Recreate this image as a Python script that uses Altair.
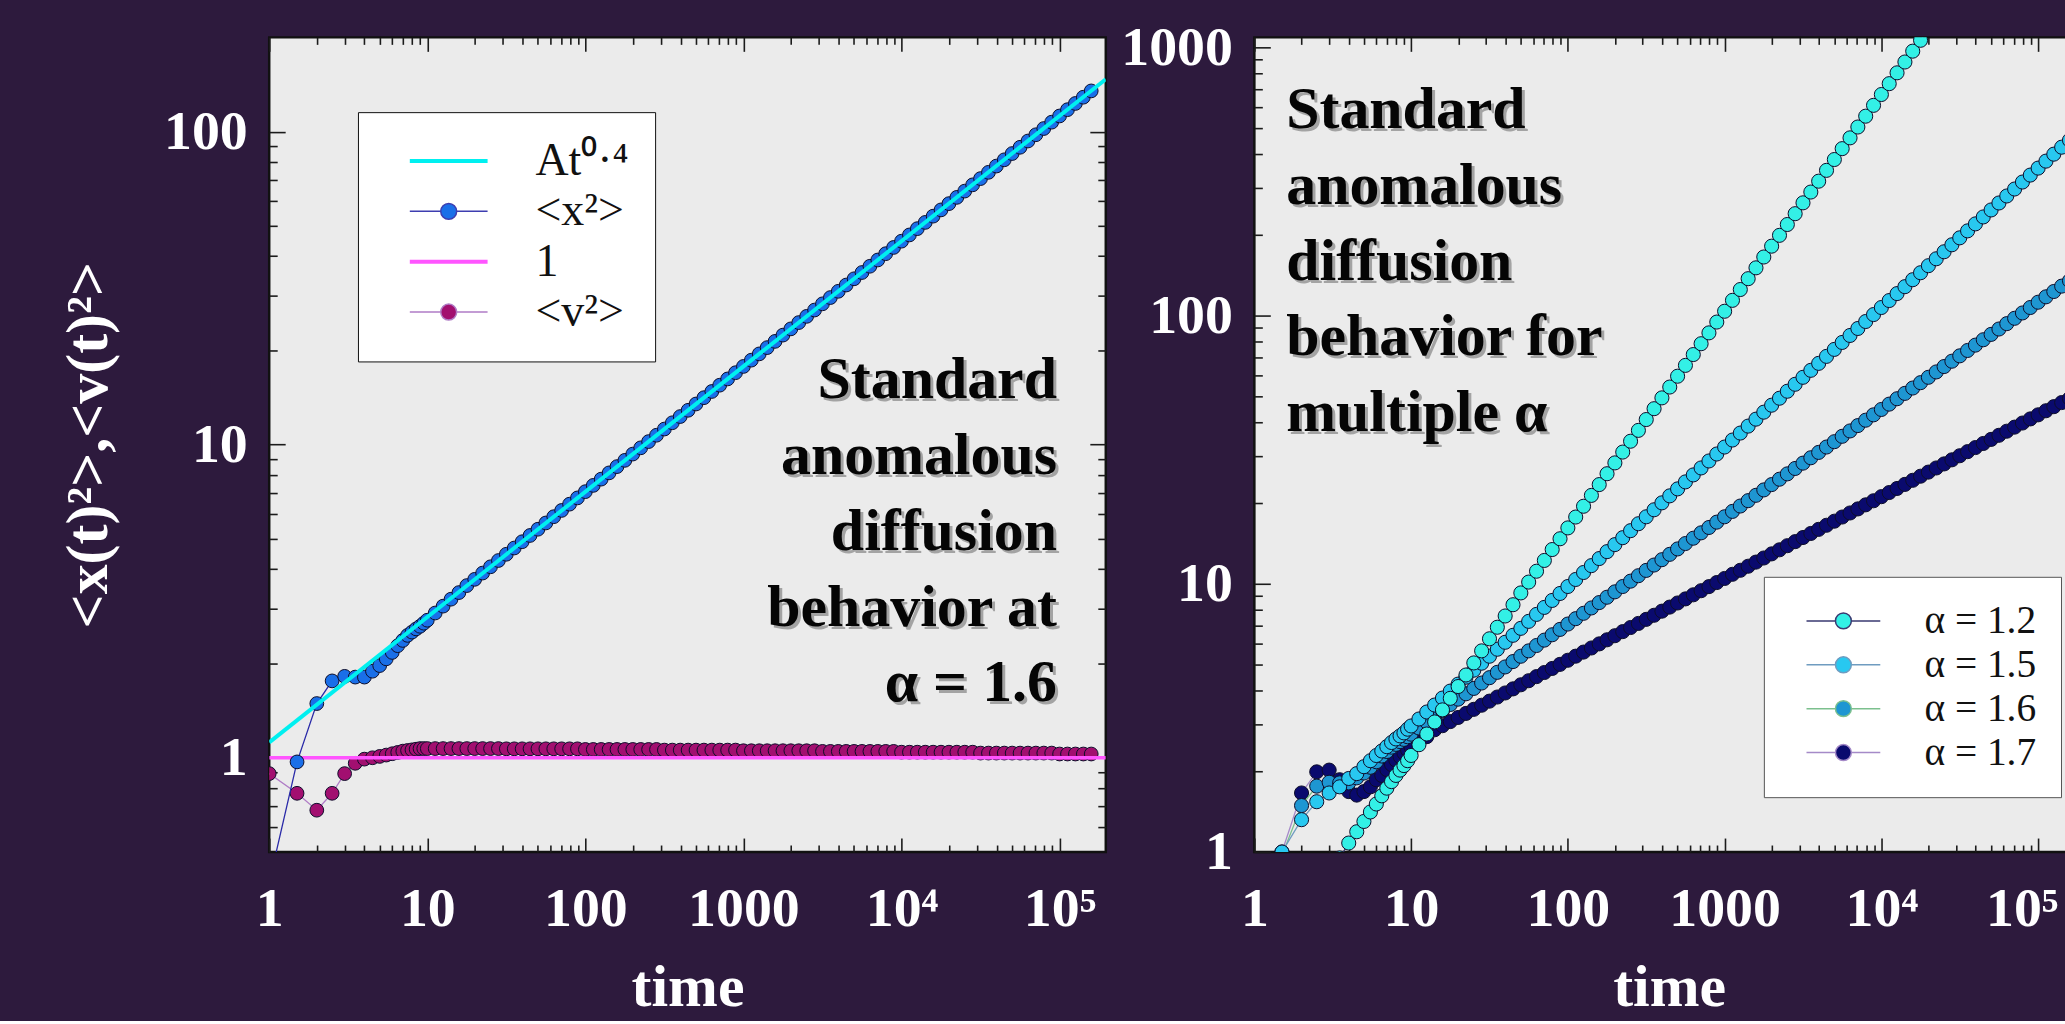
import altair as alt
import pandas as pd

# ---------------- data ----------------
TIME_EARLY = [1, 1.5, 2, 2.5, 3, 3.5, 4, 4.5, 5, 5.5, 6, 6.5, 7, 7.5, 8, 8.5, 9, 9.5]
TIME_LATE = [10, 11.22, 12.59, 14.13, 15.85, 17.78, 19.95, 22.39, 25.12, 28.18,
             31.62, 35.48, 39.81, 44.67, 50.12, 56.23, 63.1, 70.79, 79.43, 89.13,
             100, 112.2, 125.9, 141.3, 158.5, 177.8, 199.5, 223.9, 251.2, 281.8,
             316.2, 354.8, 398.1, 446.7, 501.2, 562.3, 631, 707.9, 794.3, 891.3,
             1000, 1122, 1259, 1413, 1585, 1778, 1995, 2239, 2512, 2818,
             3162, 3548, 3981, 4467, 5012, 5623, 6310, 7079, 7943, 8913,
             10000, 11220, 12590, 14130, 15850, 17780, 19950, 22390, 25120, 28180,
             31620, 35480, 39810, 44670, 50120, 56230, 63100, 70790, 79430, 89130,
             100000, 112200, 125900, 141300, 158500]
TIME = TIME_EARLY + TIME_LATE

# <x^2> at alpha = 1.6 (left panel, same curve as alpha = 1.6 on the right)
X2 = [0.40, 0.97, 1.49, 1.76, 1.82, 1.81, 1.81, 1.89, 1.97, 2.07, 2.17, 2.28, 2.37, 2.46, 2.52, 2.58, 2.63, 2.69,
      2.75, 2.90, 3.05, 3.21, 3.37, 3.548, 3.715, 3.890, 4.074, 4.266, 4.467, 4.677, 4.898, 5.129, 5.370, 5.623, 5.888, 6.166, 6.457, 6.761,
      7.079, 7.413, 7.762, 8.128, 8.511, 8.913, 9.333, 9.772, 10.23, 10.72, 11.22, 11.75, 12.30, 12.88, 13.49, 14.13, 14.79, 15.49, 16.22, 16.98,
      17.78, 18.62, 19.50, 20.42, 21.38, 22.39, 23.44, 24.55, 25.70, 26.92, 28.18, 29.51, 30.90, 32.36, 33.88, 35.48, 37.15, 38.90, 40.74, 42.66,
      44.67, 46.77, 48.98, 51.29, 53.70, 56.23, 58.88, 61.66, 64.57, 67.61, 70.79, 74.13, 77.62, 81.28, 85.11, 89.13, 93.33, 97.72, 102.3, 107.2,
      112.2, 117.5, 123.0, 128.8, 134.9]
# <v^2>
V2 = [0.89, 0.77, 0.68, 0.77, 0.89, 0.96, 0.99, 1.00, 1.01, 1.02, 1.03, 1.04, 1.05, 1.055, 1.06, 1.065, 1.07, 1.07,
      1.07, 1.07, 1.07, 1.07, 1.07, 1.07, 1.07, 1.07, 1.07, 1.07,
      1.068, 1.068, 1.068, 1.068, 1.068, 1.068, 1.068, 1.068, 1.068, 1.068,
      1.063, 1.063, 1.063, 1.063, 1.063, 1.063, 1.063, 1.063, 1.063, 1.063,
      1.058, 1.058, 1.058, 1.058, 1.058, 1.058, 1.058, 1.058, 1.058, 1.058,
      1.053, 1.053, 1.053, 1.053, 1.053, 1.053, 1.053, 1.053, 1.053, 1.053,
      1.048, 1.048, 1.048, 1.048, 1.048, 1.048, 1.048, 1.048, 1.048, 1.048,
      1.042, 1.042, 1.042, 1.042, 1.042, 1.042, 1.042, 1.042, 1.042, 1.042,
      1.035, 1.035, 1.035, 1.035, 1.035, 1.035, 1.035, 1.035, 1.035, 1.035,
      1.028, 1.028, 1.028, 1.028, 1.028]
FIT_T = [1, 196000]
FIT_V = [1.12, 147]
ONE_T = [1, 196000]
ONE_V = [1, 1]

A12 = [0.35, 0.5, 0.6, 0.7, 0.8, 0.95, 1.08, 1.19, 1.30, 1.41, 1.51, 1.62, 1.73, 1.83, 1.93, 2.02, 2.10, 2.19,
       2.291, 2.512, 2.754, 3.055, 3.388, 3.741, 4.140, 4.571, 5.070, 5.623,
       6.237, 6.887, 7.586, 8.356, 9.247, 10.15, 11.14, 12.22, 13.42, 14.72,
       16.16, 17.74, 19.46, 21.36, 23.44, 25.73, 28.24, 30.99, 34.01, 37.33,
       40.97, 44.97, 49.35, 54.16, 59.43, 65.23, 71.58, 78.56, 86.22, 94.62,
       103.8, 114.0, 125.1, 137.3, 150.7, 165.4, 181.5, 199.2, 218.6, 239.9,
       263.3, 288.9, 317.1, 348.0, 381.9, 419.3, 460.0, 504.9, 554.1, 608.1,
       667.4, 732.5, 803.9, 882.3, 968.3, 1063, 1166, 1280]
A15 = [0.55, 1.0, 1.32, 1.54, 1.66, 1.75, 1.88, 1.96, 2.08, 2.19, 2.29, 2.38, 2.47, 2.56, 2.64, 2.71, 2.78, 2.87,
       2.951, 3.133, 3.327, 3.532, 3.750, 3.981, 4.227, 4.487, 4.764, 5.058, 5.370, 5.702, 6.053, 6.427, 6.823, 7.244, 7.691, 8.166, 8.670, 9.204,
       9.772, 10.38, 11.02, 11.69, 12.42, 13.18, 14.00, 14.86, 15.78, 16.75, 17.78, 18.88, 20.04, 21.28, 22.59, 23.99, 25.47, 27.04, 28.71, 30.48,
       32.36, 34.36, 36.48, 38.73, 41.11, 43.65, 46.34, 49.20, 52.24, 55.46, 58.88, 62.52, 66.37, 70.47, 74.82, 79.43, 84.33, 89.54, 95.06, 100.9,
       107.2, 113.8, 120.8, 128.2, 136.1, 144.5, 153.5, 162.9, 173.0, 183.7, 195.0, 207.0, 219.8, 233.3, 247.7, 263.0, 279.3, 296.5, 314.8, 334.2,
       354.8, 376.7, 399.9, 424.6, 450.8]
A16 = X2
A17 = [0.5, 1.0, 1.66, 1.99, 2.02, 1.86, 1.68, 1.63, 1.68, 1.75, 1.86, 1.93, 2.03, 2.12, 2.20, 2.27, 2.34, 2.40,
       2.455, 2.570, 2.692, 2.856, 2.958, 3.064, 3.174, 3.287, 3.404, 3.526, 3.652, 3.783, 3.917, 4.057, 4.202, 4.352, 4.508, 4.669, 4.835, 5.008,
       5.188, 5.373, 5.565, 5.764, 5.970, 6.183, 6.404, 6.633, 6.871, 7.116, 7.370, 7.634, 7.907, 8.189, 8.482, 8.785, 9.099, 9.424, 9.761, 10.11,
       10.47, 10.85, 11.23, 11.63, 12.05, 12.48, 12.93, 13.39, 13.87, 14.36, 14.88, 15.41, 15.96, 16.53, 17.12, 17.74, 18.37, 19.02, 19.70, 20.40,
       21.13, 21.89, 22.67, 23.48, 24.32, 25.19, 26.09, 27.03, 27.99, 28.99, 30.03, 31.10, 32.21, 33.36, 34.55, 35.79, 37.07, 38.39, 39.76, 41.19,
       42.66, 44.18, 45.76, 47.40, 49.09]

LEFT_NAMES = ["At\u2070\u00b7\u2074", "<x\u00b2>", "1", "<v\u00b2>"]
RIGHT_NAMES = ["\u03b1 = 1.2", "\u03b1 = 1.5", "\u03b1 = 1.6", "\u03b1 = 1.7"]
NOTE_L = ["Standard", "anomalous", "diffusion", "behavior at", "\u03b1 = 1.6"]
NOTE_R = ["Standard", "anomalous", "diffusion", "behavior for", "multiple \u03b1"]

X_MAJOR = [1, 10, 100, 1000, 10000, 100000]
X_MINOR = [2, 3, 4, 5, 6, 7, 8, 9, 20, 30, 40, 50, 60, 70, 80, 90,
           200, 300, 400, 500, 600, 700, 800, 900, 2000, 3000, 4000, 5000, 6000, 7000, 8000, 9000,
           20000, 30000, 40000, 50000, 60000, 70000, 80000, 90000]
YL_MAJOR = [1, 10, 100]
YL_MINOR = [0.6, 0.7, 0.8, 0.9, 2, 3, 4, 5, 6, 7, 8, 9, 20, 30, 40, 50, 60, 70, 80, 90]
YR_MAJOR = [1, 10, 100, 1000]
YR_MINOR = [2, 3, 4, 5, 6, 7, 8, 9, 20, 30, 40, 50, 60, 70, 80, 90, 200, 300, 400, 500, 600, 700, 800, 900]

# ---------------- style ----------------
BG = "#2d1a3d"
PLOT_BG = "#ebebeb"
SERIF = "Liberation Serif"
W_L, W_R, H = 839, 832, 817
XL_DOM = [1, 196000]
XR_DOM = [1, 196000]
YL_DOM = [0.5, 200]
YR_DOM = [1, 1090]

LINE = "M-2,0H2"
LINE_DOT_L = "M-2,0H-0.41M0.41,0H2M0.41,0A0.41,0.41,0,1,1,-0.41,0A0.41,0.41,0,1,1,0.41,0Z"
LINE_DOT_R = "M-2,0H-0.43M0.43,0H2M0.43,0A0.43,0.43,0,1,1,-0.43,0A0.43,0.43,0,1,1,0.43,0Z"

LABEL_EXPR = ("datum.value >= 100000 ? '10\u2075' : (datum.value >= 10000 ? '10\u2074' : "
              "format(datum.value, 'd'))")
# the last x label of the right panel is kept inside the page edge
EDGE_ALIGN = {"condition": {"test": "datum.value >= 100000", "value": "right"}, "value": "center"}
EDGE_OFFSET = {"condition": {"test": "datum.value >= 100000", "value": 20}, "value": 0}


def frame(t, v):
    return pd.DataFrame({"t": t, "v": v})


def logscale(dom):
    return alt.Scale(type="log", domain=dom, nice=False)


def ax(orient, values, size, labels=False, pad=0, title=None, tpad=0, edge=False):
    kw = dict(orient=orient, values=values, tickSize=size, offset=-size, domain=False, grid=False,
              ticks=True, tickColor="#1b1b1b", tickWidth=1.6, labels=labels, title=title)
    if labels:
        kw.update(labelFont=SERIF, labelFontSize=56, labelFontWeight="bold", labelColor="#ffffff",
                  labelPadding=pad, labelFlush=False, labelOverlap=False, labelExpr=LABEL_EXPR)
        if edge:
            kw.update(labelAlign=EDGE_ALIGN, labelOffset=EDGE_OFFSET)
    if title is not None:
        kw.update(titleFont=SERIF, titleFontSize=60, titleFontWeight="bold", titleColor="#ffffff",
                  titlePadding=tpad)
    return alt.Axis(**kw)


def axis_layers(xdom, ydom, ymaj, ymin, ytitle, edge):
    dummy = frame([1], [1])
    specs = [
        (ax("bottom", X_MAJOR, 14, True, 30, "time", 22, edge), ax("left", ymaj, 16, True, 22, ytitle, 44)),
        (ax("bottom", X_MINOR, 7), ax("left", ymin, 8)),
        (ax("top", X_MAJOR, 14), ax("right", ymaj, 16)),
        (ax("top", X_MINOR, 7), ax("right", ymin, 8)),
    ]
    out = []
    for xa, ya in specs:
        out.append(alt.Chart(dummy).mark_point(opacity=0).transform_filter("false").encode(
            x=alt.X("t:Q", scale=logscale(xdom), axis=xa),
            y=alt.Y("v:Q", scale=logscale(ydom), axis=ya)))
    return out


def xy(chart, xdom, ydom):
    return chart.encode(x=alt.X("t:Q", scale=logscale(xdom), axis=None),
                        y=alt.Y("v:Q", scale=logscale(ydom), axis=None))


def series(df, xdom, ydom, fill, line_color, size):
    line = xy(alt.Chart(df).mark_line(color=line_color, strokeWidth=1.3, clip=True), xdom, ydom)
    pts = xy(alt.Chart(df).mark_circle(size=size, fill=fill, stroke="#0d0d2a", strokeWidth=1,
                                       opacity=1, clip=True), xdom, ydom)
    return [line, pts]


def note(lines, x, y, align):
    df = pd.DataFrame({"note": ["\n".join(lines)]})
    common = dict(font=SERIF, fontSize=60, fontWeight="bold", align=align, baseline="alphabetic",
                  lineBreak="\n", lineHeight=76)
    shadow = alt.Chart(df).mark_text(color="#000000", opacity=0.3, x=x + 3, y=y + 3, **common).encode(text="note:N")
    main = alt.Chart(df).mark_text(color="#050505", x=x, y=y, **common).encode(text="note:N")
    return [shadow, main]


VIEW = alt.ViewBackground(fill=PLOT_BG, stroke="#111111", strokeWidth=2.5)

# ---------------- left panel ----------------
LEG_L = alt.Legend(orient="none", legendX=89, legendY=75, title=None, fillColor="#ffffff",
                   strokeColor="#111111", padding=26, symbolOffset=42, labelOffset=64, rowPadding=4.5,
                   symbolSize=1521, labelFont=SERIF, labelFontSize=46, labelColor="#111111",
                   labelLimit=600)
leg_l_df = pd.DataFrame({"series": LEFT_NAMES})
legend_left = alt.Chart(leg_l_df).mark_point(filled=True, opacity=1).transform_filter("false").encode(
    fill=alt.Fill("series:N", scale=alt.Scale(domain=LEFT_NAMES, range=["#00f0f0", "#1a6fe8", "#ff55ff", "#a20f70"]), legend=LEG_L),
    stroke=alt.Stroke("series:N", scale=alt.Scale(domain=LEFT_NAMES, range=["#00f0f0", "#3d3db0", "#ff55ff", "#b07cc6"]), legend=LEG_L),
    shape=alt.Shape("series:N", scale=alt.Scale(domain=LEFT_NAMES, range=[LINE, LINE_DOT_L, LINE, LINE_DOT_L]), legend=LEG_L),
    strokeWidth=alt.StrokeWidth("series:N", scale=alt.Scale(type="ordinal", domain=LEFT_NAMES, range=[4, 1.5, 4, 1.5]), legend=LEG_L),
)

left_layers = axis_layers(XL_DOM, YL_DOM, YL_MAJOR, YL_MINOR, "<x(t)\u00b2>,<v(t)\u00b2>", False)
left_layers += series(frame(TIME, V2), XL_DOM, YL_DOM, "#a20f70", "#b07cc6", 190)
left_layers += [xy(alt.Chart(frame(ONE_T, ONE_V)).mark_line(color="#ff55ff", strokeWidth=3.5, clip=True), XL_DOM, YL_DOM)]
left_layers += series(frame(TIME, X2), XL_DOM, YL_DOM, "#1a6fe8", "#2a2aa8", 190)
left_layers += [xy(alt.Chart(frame(FIT_T, FIT_V)).mark_line(color="#00f0f0", strokeWidth=4, clip=True), XL_DOM, YL_DOM)]
left_layers += [legend_left]
left_layers += note(NOTE_L, 790, 362, "right")

left = alt.layer(*left_layers).resolve_axis(x="independent", y="independent").properties(
    width=W_L, height=H, view=VIEW)

# ---------------- right panel ----------------
LEG_R = alt.Legend(orient="none", legendX=511, legendY=541, title=None, fillColor="#ffffff",
                   strokeColor="#555555", padding=24.5, symbolOffset=35.5, labelOffset=61.5, rowPadding=3,
                   symbolSize=1369, labelFont=SERIF, labelFontSize=39.5, labelColor="#111111",
                   labelLimit=600)
leg_r_df = pd.DataFrame({"series": RIGHT_NAMES})
legend_right = alt.Chart(leg_r_df).mark_point(filled=True, opacity=1, shape=LINE_DOT_R, strokeWidth=1.3).transform_filter("false").encode(
    fill=alt.Fill("series:N", scale=alt.Scale(domain=RIGHT_NAMES, range=["#33f0e6", "#28c8f0", "#1e96d2", "#0a0a6e"]), legend=LEG_R),
    stroke=alt.Stroke("series:N", scale=alt.Scale(domain=RIGHT_NAMES, range=["#3a3a72", "#6f9cc0", "#7cc08e", "#a58ac8"]), legend=LEG_R),
)

right_layers = axis_layers(XR_DOM, YR_DOM, YR_MAJOR, YR_MINOR, None, True)
for vals, fill, lc in [(A17, "#0a0a6e", "#a58ac8"), (A16, "#1e96d2", "#7cc08e"),
                       (A15, "#28c8f0", "#6f9cc0"), (A12, "#33f0e6", "#3a3a72")]:
    right_layers += series(frame(TIME[:len(vals)], vals), XR_DOM, YR_DOM, fill, lc, 200)
right_layers += [legend_right]
right_layers += note(NOTE_R, 32, 91, "left")

right = alt.layer(*right_layers).resolve_axis(x="independent", y="independent").properties(
    width=W_R, height=H, view=VIEW)

chart = alt.hconcat(left, right, spacing=149, bounds="flush").resolve_scale(
    fill="independent", stroke="independent", shape="independent", strokeWidth="independent"
).resolve_legend(
    fill="independent", stroke="independent", shape="independent", strokeWidth="independent"
).properties(
    background=BG, padding={"left": 57, "top": 16, "right": -22, "bottom": 0}
).configure_view(fill=PLOT_BG, stroke="#111111", strokeWidth=2.5)

chart.save("out.html", embed_options={"renderer": "svg", "actions": False})
